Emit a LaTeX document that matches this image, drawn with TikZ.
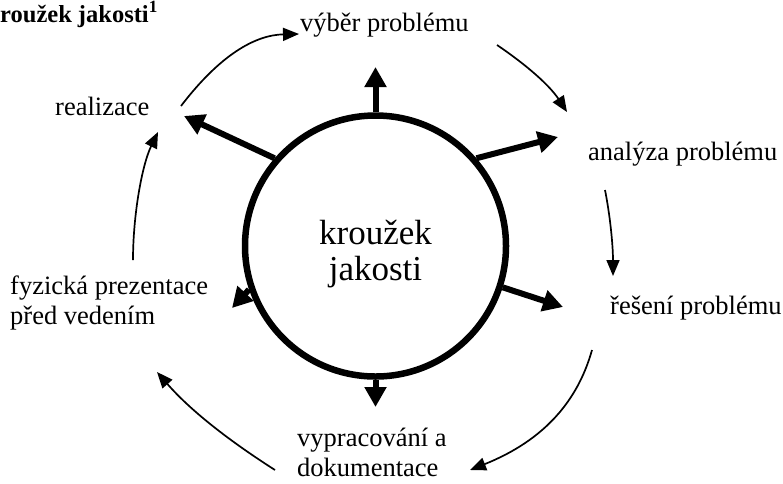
\documentclass[tikz,border=0pt]{standalone}
\usepackage{fontspec}
\setmainfont{Liberation Serif}
\usetikzlibrary{arrows.meta}
\tikzset{
  lbl/.style={inner sep=0pt, font=\fontsize{26.5}{30}\selectfont},
  ctr/.style={inner sep=0pt, align=center, font=\fontsize{35}{36}\selectfont},
  thick arrow/.style={line width=6pt, -{Triangle[length=20pt,width=21pt]}},
  thin arrow/.style={line width=1.7pt, -{Triangle[length=16pt,width=13pt]}},
}
\begin{document}
\begin{tikzpicture}[x=1pt,y=-1pt]
\useasboundingbox (0,0) rectangle (783,483);
% title
\node[inner sep=0pt, anchor=base west, font=\fontsize{24.5}{27}\selectfont\bfseries] (title) at (0,22) {roužek jakosti\textsuperscript{1}};
% central circle
\node[circle, draw, line width=6.5pt, minimum size=261pt, inner sep=0pt] (kr) at (375.5,246) {};
\node[ctr, anchor=base] (krtext) at (375.5,280) {kroužek\\jakosti};
% labels
\node[lbl, anchor=base west] (vyber) at (300,31) {výběr problému};
\node[lbl, anchor=base west] (analyza) at (588,160) {analýza problému};
\node[lbl, anchor=base west] (reseni) at (610,314) {řešení problému};
\node[lbl, anchor=base west, align=left] (vyprac) at (297,476) {vypracování a\\dokumentace};
\node[lbl, anchor=base west, align=left] (fyz) at (10,324) {fyzická prezentace\\před vedením};
\node[lbl, anchor=base west] (real) at (55,115) {realizace};
% radial arrow ends
\coordinate (tN) at (375.5,67);
\coordinate (tNE) at (558,137);
\coordinate (tE) at (563,307);
\coordinate (tS) at (375.5,407);
\coordinate (tSW) at (232,308);
\coordinate (tNW) at (184,116);
\draw[thick arrow] (kr.90) -- (tN);
\draw[thick arrow] (kr.41) -- (tNE);
\draw[thick arrow] (kr.-18) -- (tE);
\draw[thick arrow] (kr.-90) -- (tS);
\draw[thick arrow] (kr.-161) -- (tSW);
\draw[thick arrow] (kr.139) -- (tNW);
% cycle arrow ends
\coordinate (c1s) at (181,106);  \coordinate (c1e) at (299,34);
\coordinate (c2s) at (497,45);   \coordinate (c2e) at (567,112);
\coordinate (c3s) at (605,190);  \coordinate (c3e) at (613,276);
\coordinate (c4s) at (592,350);  \coordinate (c4e) at (470,470);
\coordinate (c5s) at (275,470);  \coordinate (c5e) at (157,372);
\coordinate (c6s) at (133,260);  \coordinate (c6e) at (158,132);
\draw[thin arrow] (c1s) .. controls (220,55) and (255,35) .. (c1e);
\draw[thin arrow] (c2s) .. controls (528,66) and (550,86) .. (c2e);
\draw[thin arrow] (c3s) .. controls (610,215) and (613,245) .. (c3e);
\draw[thin arrow] (c4s) .. controls (578,400) and (545,440) .. (c4e);
\draw[thin arrow] (c5s) .. controls (228,440) and (190,410) .. (c5e);
\draw[thin arrow] (c6s) .. controls (133,215) and (142,165) .. (c6e);
\end{tikzpicture}
\end{document}
